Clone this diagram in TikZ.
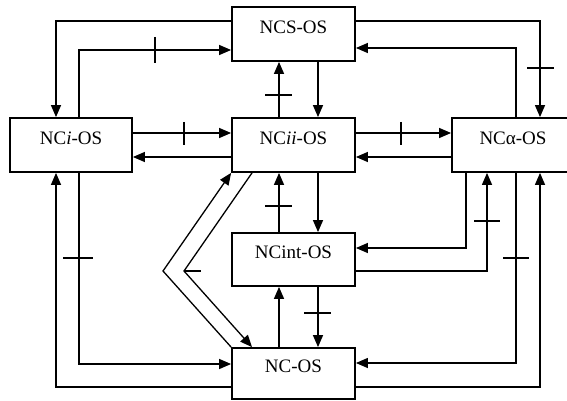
\documentclass[tikz,border=0pt]{standalone}
\usepackage{fontspec}
\setmainfont{Liberation Serif}
\usetikzlibrary{arrows.meta}
\begin{document}
\begin{tikzpicture}[x=1pt,y=-1pt,
  box/.style={draw,line width=1.8pt,minimum width=123pt,minimum height=54pt,inner sep=0pt,text height=12.6pt,text depth=14pt,font=\fontsize{19}{21}\selectfont},
  ln/.style={line width=1.3pt},
  ar/.style={ln,-{Triangle[length=12pt,width=10pt]}},
  tk/.style={line width=1.3pt}]
\clip (0,0) rectangle (567,401);
\node[box] (ncs) at (293.5,34) {NCS-OS};
\node[box,minimum width=122pt] (nci) at (71,145) {NC\textit{i}-OS};
\node[box] (ncii) at (293.5,145) {NC\textit{ii}-OS};
\node[box,minimum width=122pt] (nca) at (513,145) {NCα-OS};
\node[box,minimum height=53pt] (ncint) at (293.5,259.5) {NCint-OS};
\node[box,minimum height=51pt] (ncos) at (293.5,373.5) {NC-OS};
\coordinate (vout) at (163,271);
\coordinate (vin) at (184,271);
% top loop
\draw[ar] (ncs.west |- 0,21) -| (nci.north -| 56,0);
\draw[ar] (nci.north -| 79,0) |- (ncs.west |- 0,50);
\draw[tk] (155,37) -- (155,63);
\draw[ar] (ncii.north -| 279,0) -- (ncs.south -| 279,0);
\draw[tk] (265,95) -- (292,95);
\draw[ar] (ncs.south -| 318,0) -- (ncii.north -| 318,0);
\draw[ar] (nci.east |- 0,133) -- (ncii.west |- 0,133);
\draw[tk] (184,122) -- (184,145);
\draw[ar] (ncii.west |- 0,157) -- (nci.east |- 0,157);
\draw[ar] (ncs.east |- 0,21) -| (nca.north -| 540,0);
\draw[tk] (527,68) -- (554,68);
\draw[ar] (nca.north -| 516,0) |- (ncs.east |- 0,48);
\draw[ar] (ncii.east |- 0,133) -- (nca.west |- 0,133);
\draw[tk] (401,122) -- (401,145);
\draw[ar] (nca.west |- 0,157) -- (ncii.east |- 0,157);
% right side
\draw[ar] (nca.south -| 466,0) |- (ncint.east |- 0,248);
\draw[ar] (ncint.east |- 0,271) -| (nca.south -| 487,0);
\draw[tk] (474,221) -- (500,221);
\draw[ar] (nca.south -| 516,0) |- (ncos.east |- 0,363);
\draw[tk] (503,258) -- (529,258);
\draw[ar] (ncos.east |- 0,387) -| (nca.south -| 540,0);
% centre column
\draw[ar] (ncint.north -| 279,0) -- (ncii.south -| 279,0);
\draw[tk] (265,206) -- (292,206);
\draw[ar] (ncii.south -| 318,0) -- (ncint.north -| 318,0);
\draw[ar] (ncint.south -| 318,0) -- (ncos.north -| 318,0);
\draw[tk] (304,313) -- (331,313);
\draw[ar] (ncos.north -| 279,0) -- (ncint.south -| 279,0);
% left side
\draw[ar] (nci.south -| 79,0) |- (ncos.west |- 0,364);
\draw[tk] (63,258) -- (93,258);
\draw[ar] (ncos.west |- 0,387) -| (nci.south -| 56,0);
% V shapes
\draw[ar] (ncos.north west) -- (vout) -- (ncii.south west);
\draw[ar] (ncii.south -| 252,0) -- (vin) -- (ncos.north -| 252,0);
\draw[tk] (vin) -- (201,271);
\end{tikzpicture}
\end{document}
